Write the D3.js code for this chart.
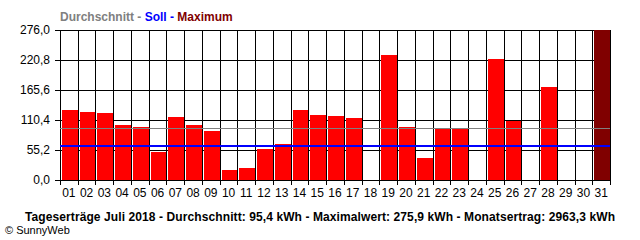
<!DOCTYPE html>
<html>
<head>
<meta charset="utf-8">
<script src="https://cdn.jsdelivr.net/npm/d3@7"></script>
<style>
  body { margin: 0; background: #fff; }
  svg { display: block; }
  text { font-family: "Liberation Sans", Arial, sans-serif; }
</style>
</head>
<body>
<div id="chart"></div>
<script>
// Tageserträge Juli 2018 (kWh)
const days = d3.range(1, 32).map(d => String(d).padStart(2, '0'));
const yields = [128.8, 125.1, 123.3, 101.2, 97.5, 51.5, 115.9, 101.2, 90.2, 18.4,
                22.0, 57.0, 66.2, 128.8, 119.6, 117.8, 114.1, 0, 230.0, 97.5,
                40.5, 93.8, 93.8, 0, 222.6, 109.2, 0, 171.0, 0, 0, 275.9];
const yTicks = [0, 55.2, 110.4, 165.6, 220.8, 276.0];
const average = 95.4;
const target = 62.0;
const maximum = 275.9;
const footer = 'Tageserträge Juli 2018 - Durchschnitt: 95,4 kWh - Maximalwert: 275,9 kWh - Monatsertrag: 2963,3 kWh';

const width = 640, height = 240;
const plotLeft = 60, plotRight = 610, plotTop = 30, plotBottom = 180;

const svg = d3.select('#chart').append('svg')
  .attr('width', width)
  .attr('height', height);

const x = d3.scaleBand().domain(days).range([plotLeft, plotRight]).padding(0);
const y = d3.scaleLinear().domain([0, 276]).range([plotBottom, plotTop]);

const px = v => Math.round(v) + 0.5;

// horizontal grid
svg.append('g')
  .selectAll('line')
  .data(yTicks)
  .join('line')
  .attr('x1', plotLeft - 5)
  .attr('x2', plotRight)
  .attr('y1', d => px(y(d)))
  .attr('y2', d => px(y(d)))
  .attr('stroke', '#000');

// vertical grid (day boundaries)
const edges = d3.range(0, days.length + 1).map(i => plotLeft + i * x.bandwidth());
svg.append('g')
  .selectAll('line')
  .data(edges)
  .join('line')
  .attr('x1', d => px(d))
  .attr('x2', d => px(d))
  .attr('y1', plotTop)
  .attr('y2', plotBottom + 5)
  .attr('stroke', '#000');

// bars
svg.append('g')
  .selectAll('rect')
  .data(yields.map((v, i) => ({ day: days[i], v })).filter(d => d.v > 0))
  .join('rect')
  .attr('x', d => Math.round(x(d.day)) + 2)
  .attr('width', d => Math.round(x(d.day) + x.bandwidth()) - Math.round(x(d.day)) - 2)
  .attr('y', d => Math.round(y(d.v)))
  .attr('height', d => plotBottom - Math.round(y(d.v)))
  .attr('fill', d => d.v === maximum ? '#800000' : '#ff0000');

// average and target lines
svg.append('line')
  .attr('x1', plotLeft).attr('x2', plotRight)
  .attr('y1', px(y(average))).attr('y2', px(y(average)))
  .attr('stroke', '#808080');
svg.append('line')
  .attr('x1', plotLeft).attr('x2', plotRight)
  .attr('y1', Math.round(y(target))).attr('y2', Math.round(y(target)))
  .attr('stroke', '#0000ff')
  .attr('stroke-width', 2);

// y axis labels
svg.append('g')
  .attr('transform', `translate(${plotLeft},0)`)
  .call(d3.axisLeft(y).tickValues(yTicks).tickSize(0).tickPadding(10)
    .tickFormat(d => d3.format('.1f')(d).replace('.', ',')))
  .call(g => g.select('.domain').remove())
  .call(g => g.selectAll('text').attr('font-size', 12).attr('fill', '#000')
    .style('font-family', '"Liberation Sans", Arial, sans-serif'));

// x axis labels
svg.append('g')
  .attr('transform', `translate(0,${plotBottom})`)
  .call(d3.axisBottom(x).tickSize(0).tickPadding(8))
  .call(g => g.select('.domain').remove())
  .call(g => g.selectAll('text').attr('font-size', 12).attr('fill', '#000')
    .style('font-family', '"Liberation Sans", Arial, sans-serif'));

// legend header
const head = svg.append('text')
  .attr('x', plotLeft)
  .attr('y', 21)
  .attr('font-size', 12)
  .attr('font-weight', 'bold');
head.append('tspan').attr('fill', '#808080').text('Durchschnitt - ');
head.append('tspan').attr('fill', '#0000ff').text('Soll - ');
head.append('tspan').attr('fill', '#800000').text('Maximum');

// footer
svg.append('text')
  .attr('x', 25)
  .attr('y', 221)
  .attr('font-size', 12)
  .attr('font-weight', 'bold')
  .attr('fill', '#000')
  .attr('textLength', 590)
  .attr('lengthAdjust', 'spacing')
  .text(footer);

svg.append('text')
  .attr('x', 5)
  .attr('y', 234)
  .attr('font-size', 11)
  .attr('fill', '#000')
  .text('© SunnyWeb');
</script>
</body>
</html>
